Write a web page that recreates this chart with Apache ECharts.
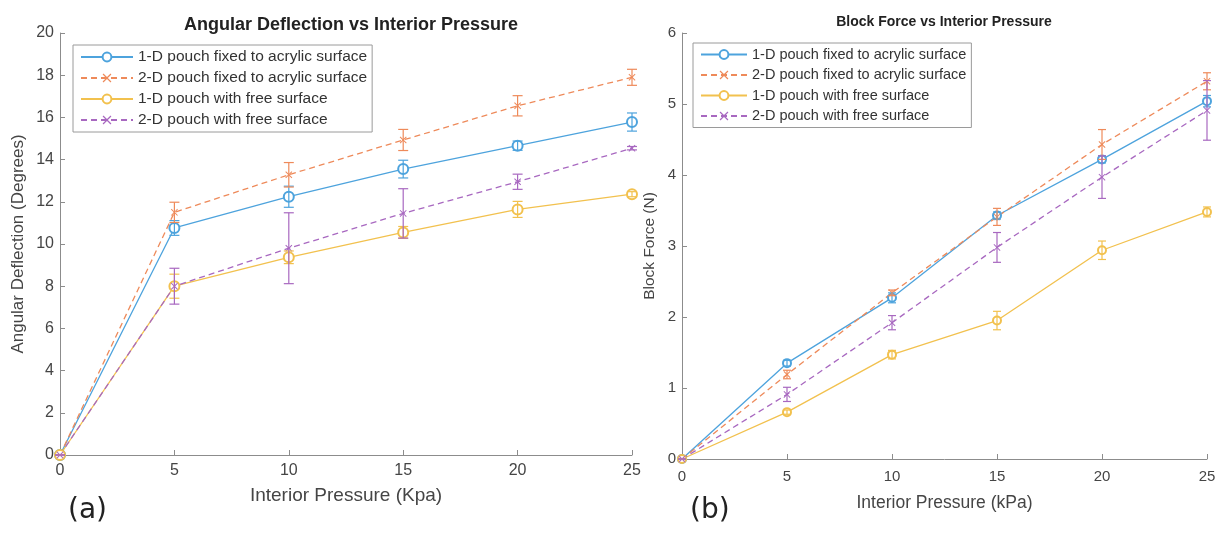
<!DOCTYPE html>
<html>
<head>
<meta charset="utf-8">
<script src="https://cdn.jsdelivr.net/npm/echarts@6/dist/echarts.min.js"></script>
<style>
  html, body { margin: 0; padding: 0; background: #fff; }
  #chart { width: 1225px; height: 536px; }
</style>
</head>
<body>
<div id="chart"></div>
<script>
( () => {
    // x values shared by both panels (kPa)
    const pressure = [ 0, 5, 10, 15, 20, 25 ];

    const seriesNames = [
        '1-D pouch fixed to acrylic surface',
        '2-D pouch fixed to acrylic surface',
        '1-D pouch with free surface',
        '2-D pouch with free surface',
    ];

    // (a) angular deflection, degrees, with +/- error
    const angle1DFixed = [ 0, 10.76, 12.24, 13.55, 14.66, 15.78 ];
    const angle1DFixedErr = [ 0, 0.35, 0.5, 0.42, 0.22, 0.43 ];
    const angle2DFixed = [ 0, 11.5, 13.28, 14.93, 16.55, 17.9 ];
    const angle2DFixedErr = [ 0, 0.48, 0.58, 0.5, 0.48, 0.38 ];
    const angle1DFree = [ 0, 8.0, 9.37, 10.55, 11.64, 12.36 ];
    const angle1DFreeErr = [ 0, 0.57, 0.3, 0.28, 0.38, 0.12 ];
    const angle2DFree = [ 0, 8.0, 9.8, 11.45, 12.95, 14.54 ];
    const angle2DFreeErr = [ 0, 0.85, 1.68, 1.17, 0.36, 0.08 ];

    // (b) block force, N, with +/- error
    const force1DFixed = [ 0, 1.35, 2.27, 3.43, 4.22, 5.04 ];
    const force1DFixedErr = [ 0, 0.04, 0.07, 0.05, 0.05, 0.08 ];
    const force2DFixed = [ 0, 1.19, 2.34, 3.41, 4.43, 5.32 ];
    const force2DFixedErr = [ 0, 0.06, 0.04, 0.12, 0.21, 0.12 ];
    const force1DFree = [ 0, 0.66, 1.47, 1.95, 2.94, 3.48 ];
    const force1DFreeErr = [ 0, 0.03, 0.06, 0.13, 0.13, 0.07 ];
    const force2DFree = [ 0, 0.91, 1.92, 2.98, 3.97, 4.91 ];
    const force2DFreeErr = [ 0, 0.1, 0.1, 0.21, 0.3, 0.42 ];

    const colors = [ '#4DA3DD', '#EE8A5A', '#F2C14E', '#A868C0' ];
    const crossSymbol = 'path://M1,0L5,4L9,0L10,1L6,5L10,9L9,10L5,6L1,10L0,9L4,5L0,1Z';
    const font = 'Liberation Sans';
    const axisGray = '#8c8c8c';
    const textGray = '#454545';

    const panelA = [
        [ angle1DFixed, angle1DFixedErr ],
        [ angle2DFixed, angle2DFixedErr ],
        [ angle1DFree, angle1DFreeErr ],
        [ angle2DFree, angle2DFreeErr ],
    ];
    const panelB = [
        [ force1DFixed, force1DFixedErr ],
        [ force2DFixed, force2DFixedErr ],
        [ force1DFree, force1DFreeErr ],
        [ force2DFree, force2DFreeErr ],
    ];

    const capHalf = [ 5, 4 ];

    function buildSeries( panel, axisIndex ) {
        const out = [];
        panel.forEach( ( pair, i ) => {
            const values = pair[ 0 ];
            const errs = pair[ 1 ];
            const dashed = i % 2 === 1;
            out.push( {
                type: 'line',
                name: seriesNames[ i ],
                xAxisIndex: axisIndex,
                yAxisIndex: axisIndex,
                data: pressure.map( ( x, k ) => [ x, values[ k ] ] ),
                symbol: dashed ? crossSymbol : 'emptyCircle',
                symbolSize: dashed ? 7 : ( axisIndex === 0 ? 10 : 8 ),
                showSymbol: true,
                clip: false,
                color: colors[ i ],
                itemStyle: { color: colors[ i ], borderWidth: 1.1 },
                lineStyle: {
                    color: colors[ i ],
                    width: 1.3,
                    type: dashed ? [ 6, 4 ] : 'solid',
                },
                z: 2,
            } );
            out.push( {
                type: 'custom',
                name: seriesNames[ i ] + ' error',
                xAxisIndex: axisIndex,
                yAxisIndex: axisIndex,
                data: pressure.map( ( x, k ) => [ x, values[ k ] - errs[ k ], values[ k ] + errs[ k ] ] ),
                clip: false,
                z: 3,
                renderItem: ( params, api ) => {
                    const x = api.value( 0 );
                    const lo = api.coord( [ x, api.value( 1 ) ] );
                    const hi = api.coord( [ x, api.value( 2 ) ] );
                    const w = capHalf[ axisIndex ];
                    const style = { stroke: colors[ i ], lineWidth: 1.2 };
                    return {
                        type: 'group',
                        children: [
                            { type: 'line', shape: { x1: lo[ 0 ], y1: lo[ 1 ], x2: hi[ 0 ], y2: hi[ 1 ] }, style: style },
                            { type: 'line', shape: { x1: lo[ 0 ] - w, y1: lo[ 1 ], x2: lo[ 0 ] + w, y2: lo[ 1 ] }, style: style },
                            { type: 'line', shape: { x1: hi[ 0 ] - w, y1: hi[ 1 ], x2: hi[ 0 ] + w, y2: hi[ 1 ] }, style: style },
                        ],
                    };
                },
            } );
        } );
        return out;
    }

    function xAxis( gridIndex, name, gap, nameSize, labelSize, margin ) {
        return {
            type: 'value',
            gridIndex: gridIndex,
            min: 0,
            max: 25,
            interval: 5,
            name: name,
            nameLocation: 'middle',
            nameGap: gap,
            nameTextStyle: { fontFamily: font, fontSize: nameSize, color: textGray },
            axisLine: { show: true, lineStyle: { color: axisGray, width: 1 } },
            axisTick: { show: true, inside: true, length: 5, lineStyle: { color: axisGray } },
            axisLabel: { fontFamily: font, fontSize: labelSize, color: textGray, margin: margin },
            splitLine: { show: false },
        };
    }

    function yAxis( gridIndex, name, max, interval, gap, nameSize, labelSize ) {
        return {
            type: 'value',
            gridIndex: gridIndex,
            min: 0,
            max: max,
            interval: interval,
            name: name,
            nameLocation: 'middle',
            nameGap: gap,
            nameTextStyle: { fontFamily: font, fontSize: nameSize, color: textGray },
            axisLine: { show: true, lineStyle: { color: axisGray, width: 1 } },
            axisTick: { show: true, inside: true, length: 5, lineStyle: { color: axisGray } },
            axisLabel: { fontFamily: font, fontSize: labelSize, color: textGray, margin: 6 },
            splitLine: { show: false },
        };
    }

    function legend( left, top, size, width, gap ) {
        return {
            orient: 'vertical',
            left: left,
            top: top,
            data: seriesNames,
            itemWidth: width,
            itemHeight: 11,
            itemGap: gap,
            padding: [ 4, 5, 4, 7 ],
            borderColor: '#9a9a9a',
            borderWidth: 1,
            backgroundColor: '#fff',
            selectedMode: false,
            textStyle: { fontFamily: font, fontSize: size, color: '#333', padding: [ 0, 0, 0, 0 ] },
        };
    }

    const chart = echarts.init( document.getElementById( 'chart' ), null, { renderer: 'canvas' } );

    chart.setOption( {
        backgroundColor: '#fff',
        animation: false,
        title: [
            {
                text: 'Angular Deflection vs Interior Pressure',
                left: 346,
                top: 11,
                textAlign: 'center',
                textStyle: { fontFamily: font, fontSize: 18, fontWeight: 'bold', color: '#222' },
            },
            {
                text: 'Block Force vs Interior Pressure',
                left: 939,
                top: 10,
                textAlign: 'center',
                textStyle: { fontFamily: font, fontSize: 14, fontWeight: 'bold', color: '#222' },
            },
        ],
        legend: [
            legend( 73, 45, 15.5, 52, 5 ),
            legend( 693, 43, 14.5, 46, 5.5 ),
        ],
        grid: [
            { left: 60, top: 33, width: 572, height: 422 },
            { left: 682, top: 33, width: 525, height: 426 },
        ],
        xAxis: [
            xAxis( 0, 'Interior Pressure (Kpa)', 31, 19, 16, 8 ),
            xAxis( 1, 'Interior Pressure (kPa)', 35, 17.5, 15, 10 ),
        ],
        yAxis: [
            yAxis( 0, 'Angular Deflection (Degrees)', 20, 2, 33, 17, 16 ),
            yAxis( 1, 'Block Force (N)', 6, 1, 24, 15.5, 15 ),
        ],
        graphic: [
            {
                type: 'text',
                left: 68,
                top: 497,
                style: { text: '(a)', fontFamily: 'DejaVu Sans', fontSize: 28, fill: '#222' },
            },
            {
                type: 'text',
                left: 690,
                top: 497,
                style: { text: '(b)', fontFamily: 'DejaVu Sans', fontSize: 28, fill: '#222' },
            },
        ],
        series: buildSeries( panelA, 0 ).concat( buildSeries( panelB, 1 ) ),
    } );

    window.addEventListener( 'resize', () => {
        chart.resize();
    } );
} ) ();
</script>
</body>
</html>
